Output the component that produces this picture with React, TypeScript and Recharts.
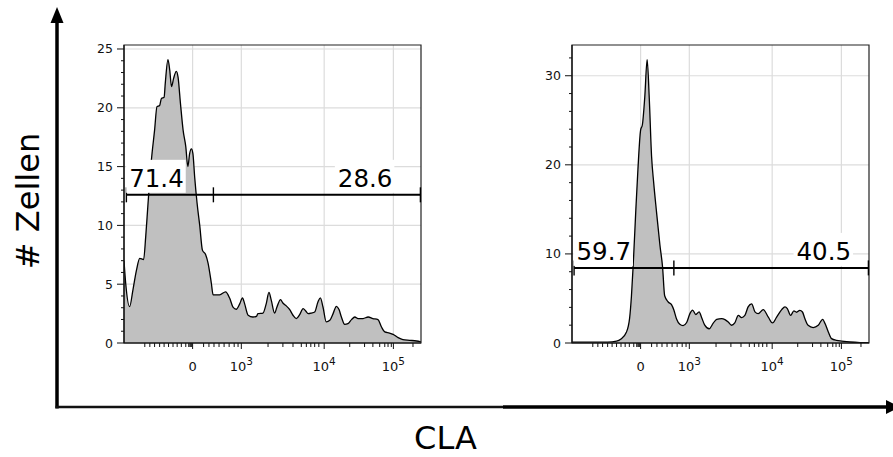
import React from 'react';
import {
  ComposedChart,
  Area,
  XAxis,
  YAxis,
  CartesianGrid,
  ReferenceLine,
  ReferenceArea,
  ReferenceDot,
} from 'recharts';

const FONT = '"DejaVu Sans", "Noto Sans", sans-serif';

// Display channel on the biexponential CLA axis (0 = left edge, 1000 = right edge)
// and the cell counts of each histogram.
const leftChannel = [
  0, 6, 19, 30, 42, 53, 66, 73, 81, 92, 103, 111, 120, 126, 135, 139, 148, 154, 160, 167,
  176, 182, 190, 199, 208, 215, 221, 227, 232, 238, 246, 255, 264, 275, 283, 294, 300, 322,
  342, 356, 367, 378, 390, 399, 406, 418, 434, 446, 451, 468, 479, 488, 496, 507, 515, 527,
  535, 544, 558, 569, 580, 592, 603, 612, 620, 631, 642, 653, 661, 670, 681, 693, 704, 715,
  724, 732, 743, 754, 766, 777, 788, 805, 822, 838, 855, 867, 878, 894, 906, 923, 939, 962,
  985, 1000,
];
const leftCount = [
  7.0, 5.0, 3.1, 4.5, 6.2, 7.2, 7.1, 9.0, 11.9, 15.5, 18.1, 20.1, 20.2, 20.8, 20.9, 22.1,
  24.1, 23.2, 21.8, 22.5, 23.1, 22.6, 20.4, 18.1, 16.7, 15.0, 16.1, 16.5, 16.1, 14.1, 11.9,
  10.0, 7.9, 7.5, 6.8, 5.1, 4.1, 4.1, 4.35, 3.8, 3.05, 2.87, 3.35, 3.83, 3.35, 2.36, 2.21,
  2.27, 2.5, 2.55, 3.35, 4.3, 3.63, 2.55, 3.06, 3.69, 3.4, 3.21, 2.84, 2.36, 2.08, 2.44, 2.93,
  2.72, 2.5, 2.55, 2.64, 3.49, 3.83, 3.06, 1.79, 1.93, 2.5, 3.12, 2.84, 2.21, 1.59, 1.65,
  1.99, 2.21, 2.08, 2.08, 2.21, 2.08, 1.99, 1.36, 0.94, 0.85, 0.74, 0.46, 0.29, 0.23, 0.17,
  0.09,
];

const rightChannel = [
  0, 60, 120, 150, 165, 183, 194, 200, 206, 215, 222, 231, 237, 245, 253, 260, 268, 275, 284,
  296, 305, 312, 324, 335, 343, 352, 363, 374, 386, 397, 406, 417, 428, 436, 447, 462, 475,
  487, 504, 515, 526, 537, 548, 560, 571, 582, 593, 605, 616, 627, 644, 661, 675, 689, 706,
  717, 725, 736, 747, 756, 767, 776, 784, 795, 812, 829, 844, 852, 863, 874, 891, 908, 936,
  970, 1000,
];
const rightCount = [
  0.1, 0.1, 0.1, 0.2, 0.45, 1.2, 2.8, 5.2, 8.7, 15.0, 19.5, 23.9, 24.5, 27.6, 31.8, 27.6,
  20.9, 18.0, 14.9, 11.0, 8.5, 5.3, 4.6, 4.3, 3.7, 2.7, 2.1, 1.95, 2.3, 3.3, 3.7, 3.2, 3.5,
  2.9, 2.0, 1.6, 2.2, 2.66, 2.74, 2.63, 2.36, 1.99, 2.25, 3.1, 2.85, 3.1, 4.05, 4.4, 3.5, 3.3,
  3.75, 2.9, 2.25, 2.9, 3.75, 4.05, 3.86, 3.1, 3.6, 3.45, 3.67, 3.48, 2.74, 1.99, 1.73, 1.99,
  2.66, 2.18, 1.24, 0.49, 0.3, 0.22, 0.11, 0.05, 0.04,
];

// CLA axis: labelled decades and the minor ticks between them.
const xMajorTicks = [231, 395, 674, 907];
const xMajorBase = ['0', '10', '10', '10'];
const xMajorExp = ['', '3', '4', '5'];
const xMinorTicks = [
  70, 87, 103, 120, 135, 150, 165, 179, 193, 208, 218, 222, 225, 228, 268, 286, 303, 320,
  337, 354, 371, 384, 485, 535, 569, 597, 614, 629, 642, 656, 760, 810, 838, 861, 878, 889,
  900, 973,
];

// Count axes.
const leftYMax = 25.34;
const leftYMajor = [0, 5, 10, 15, 20, 25];
const leftYMinor = [1, 2, 3, 4, 6, 7, 8, 9, 11, 12, 13, 14, 16, 17, 18, 19, 21, 22, 23, 24];
const rightYMax = 33.45;
const rightYMajor = [0, 10, 20, 30];
const rightYMinor = [2, 4, 6, 8, 12, 14, 16, 18, 22, 24, 26, 28, 32];

// Gates: level, left end, split, right end; labels with their left channel.
const leftGate = [12.6, 8, 301, 998];
const leftGateLabels = ['71.4', '28.6'];
const leftGateLabelAt = [17.5, 720];
const rightGate = [8.43, 7, 343, 998];
const rightGateLabels = ['59.7', '40.5'];
const rightGateLabelAt = [15, 756];

const PLOT_H = 298;
const GATE_TICK_PX = 7.5;

const makeXTick = () => (props: any) => {
  const { x, y, payload } = props;
  const idx = xMajorTicks.indexOf(payload.value);
  const major = idx >= 0;
  return (
    <g>
      <line x1={x} x2={x} y1={y} y2={y + (major ? 6 : 4)} stroke="#111" strokeWidth={1} />
      {major && (
        <text
          x={x}
          y={y + 28}
          textAnchor="middle"
          fontSize={13}
          fontFamily={FONT}
          fill="#111"
        >
          {xMajorBase[idx]}
          {xMajorExp[idx] ? (
            <tspan dy={-6} fontSize={10.5}>
              {xMajorExp[idx]}
            </tspan>
          ) : null}
        </text>
      )}
    </g>
  );
};

const makeYTick = (majors: number[]) => (props: any) => {
  const { x, y, payload } = props;
  const major = majors.indexOf(payload.value) >= 0;
  return (
    <g>
      <line x1={x} x2={x - (major ? 7 : 3)} y1={y} y2={y} stroke="#111" strokeWidth={1} />
      {major && (
        <text
          x={x - 11}
          y={y}
          textAnchor="end"
          dominantBaseline="central"
          fontSize={12.5}
          fontFamily={FONT}
          fill="#111"
        >
          {payload.value}
        </text>
      )}
    </g>
  );
};

const gateLabelShape = (text: string) => (props: any) => {
  const { cx, cy } = props;
  const size = 24.5;
  const w = size * (text.replace('.', '').length * 0.636 + 0.318);
  const base = cy - 7.6;
  return (
    <g>
      <rect x={cx - 3} y={base - 27.4} width={w + 5} height={33} fill="#fff" />
      <text x={cx} y={base} fontSize={size} fontFamily={FONT} fill="#000">
        {text}
      </text>
    </g>
  );
};

type PanelProps = {
  channel: number[];
  count: number[];
  yMax: number;
  yMajor: number[];
  yMinor: number[];
  gate: number[];
  gateLabels: string[];
  gateLabelAt: number[];
  left: number;
  marginLeft: number;
  marginRight: number;
};

function Histogram(p: PanelProps) {
  const rows = p.channel.map((c, i) => ({ ch: c, n: p.count[i] }));
  const [level, g0, g1, g2] = p.gate;
  const half = (GATE_TICK_PX * p.yMax) / PLOT_H;
  const yTicks = [...p.yMajor, ...p.yMinor].sort((a, b) => a - b);
  const xTicks = [...xMinorTicks, ...xMajorTicks].sort((a, b) => a - b);
  return (
    <div style={{ position: 'absolute', left: p.left, top: 0 }}>
      <ComposedChart
        width={440}
        height={400}
        data={rows}
        margin={{ top: 45, right: p.marginRight, bottom: 27, left: p.marginLeft }}
      >
        <CartesianGrid
          stroke="#dcdcdc"
          strokeWidth={1.2}
          verticalCoordinatesGenerator={({ xAxis, offset }: any) =>
            xMajorTicks.map((v) =>
              xAxis && typeof xAxis.scale === 'function'
                ? xAxis.scale(v)
                : offset.left + (offset.width * v) / 1000
            )
          }
          horizontalCoordinatesGenerator={({ yAxis, offset }: any) =>
            p.yMajor.map((v) =>
              yAxis && typeof yAxis.scale === 'function'
                ? yAxis.scale(v)
                : offset.top + offset.height * (1 - v / p.yMax)
            )
          }
        />
        <XAxis
          dataKey="ch"
          type="number"
          domain={[0, 1000]}
          ticks={xTicks}
          interval={0}
          height={30}
          tickSize={0}
          tickMargin={0}
          tickLine={false}
          axisLine={{ stroke: '#111', strokeWidth: 1.2 }}
          tick={makeXTick()}
          allowDataOverflow
        />
        <YAxis
          type="number"
          domain={[0, p.yMax]}
          ticks={yTicks}
          interval={0}
          width={60}
          tickSize={0}
          tickMargin={0}
          tickLine={false}
          axisLine={{ stroke: '#111', strokeWidth: 1.2 }}
          tick={makeYTick(p.yMajor)}
          allowDataOverflow
        />
        <Area
          type="monotone"
          dataKey="n"
          stroke="#000"
          strokeWidth={1.3}
          fill="#c0c0c0"
          fillOpacity={1}
          dot={false}
          activeDot={false}
          isAnimationActive={false}
        />
        <ReferenceArea
          x1={0}
          x2={1000}
          y1={0}
          y2={p.yMax}
          fill="none"
          stroke="#222"
          strokeWidth={1.2}
        />
        <ReferenceLine
          segment={[
            { x: g0, y: level },
            { x: g2, y: level },
          ]}
          stroke="#000"
          strokeWidth={2}
        />
        {[g0, g1, g2].map((gx) => (
          <ReferenceLine
            key={gx}
            segment={[
              { x: gx, y: level - half },
              { x: gx, y: level + half },
            ]}
            stroke="#000"
            strokeWidth={1.4}
          />
        ))}
        {p.gateLabels.map((t, i) => (
          <ReferenceDot
            key={t}
            x={p.gateLabelAt[i]}
            y={level}
            shape={gateLabelShape(t)}
          />
        ))}
      </ComposedChart>
    </div>
  );
}

export default function App() {
  return (
    <div
      style={{
        position: 'absolute',
        left: 0,
        top: 0,
        width: 893,
        height: 457,
        background: '#fff',
        overflow: 'hidden',
      }}
    >
      <Histogram
        channel={leftChannel}
        count={leftCount}
        yMax={leftYMax}
        yMajor={leftYMajor}
        yMinor={leftYMinor}
        gate={leftGate}
        gateLabels={leftGateLabels}
        gateLabelAt={leftGateLabelAt}
        left={0}
        marginLeft={64}
        marginRight={19}
      />
      <Histogram
        channel={rightChannel}
        count={rightCount}
        yMax={rightYMax}
        yMajor={rightYMajor}
        yMinor={rightYMinor}
        gate={rightGate}
        gateLabels={rightGateLabels}
        gateLabelAt={rightGateLabelAt}
        left={450}
        marginLeft={62}
        marginRight={21}
      />
      <svg
        width={893}
        height={457}
        style={{ position: 'absolute', left: 0, top: 0, pointerEvents: 'none' }}
      >
        <line x1={57} y1={21} x2={57} y2={408.5} stroke="#000" strokeWidth={3.5} />
        <polygon points="57,7 50.5,23 63.5,23" fill="#000" />
        <line x1={55.5} y1={407} x2={503} y2={407} stroke="#111" strokeWidth={2.5} />
        <line x1={503} y1={407} x2={888} y2={407} stroke="#000" strokeWidth={3.5} />
        <polygon points="900,407 886,400 886,414" fill="#000" />
        <text
          x={28}
          y={201}
          transform="rotate(-90 28 201)"
          textAnchor="middle"
          dominantBaseline="central"
          fontSize={32}
          fontFamily={FONT}
          fill="#000"
        >
          # Zellen
        </text>
        <text
          x={445.5}
          y={448.5}
          textAnchor="middle"
          fontSize={32}
          fontFamily={FONT}
          fill="#000"
        >
          CLA
        </text>
      </svg>
    </div>
  );
}
